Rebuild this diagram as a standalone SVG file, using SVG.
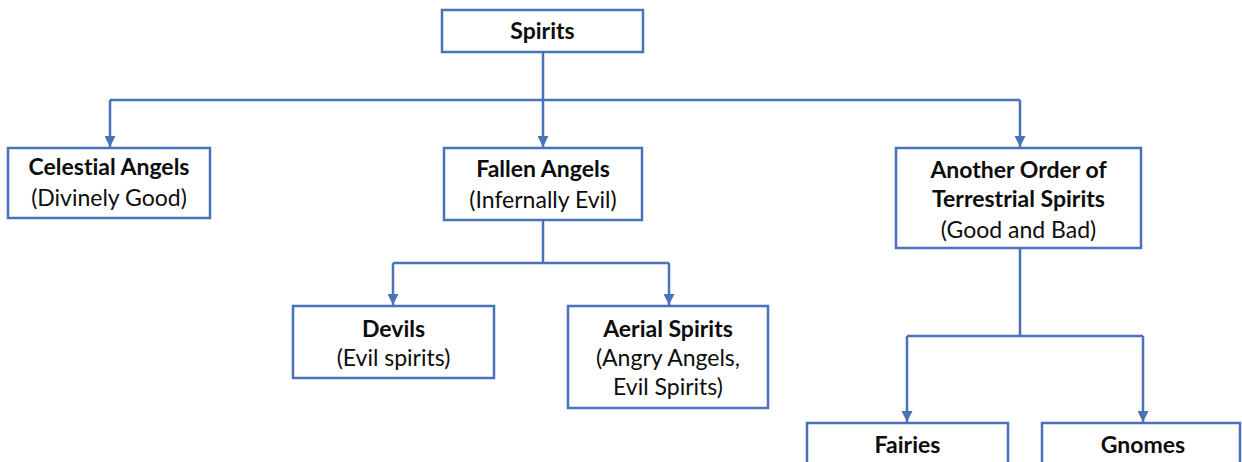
<svg xmlns="http://www.w3.org/2000/svg" width="1242" height="462" viewBox="0 0 1242 462">
  <style>
    .box { fill: #ffffff; stroke: #4a72b8; stroke-width: 2.5; }
    .wire { fill: none; stroke: #4a72b8; stroke-width: 2.5; }
    text { font-family: Lato, "Open Sans", "Liberation Sans", sans-serif; font-size: 23px; fill: #0d0d0d; text-anchor: middle; font-variant-ligatures: none; }
    .b { font-weight: bold; }
  </style>
  <defs>
    <marker id="tip" viewBox="0 0 10 10" refX="10" refY="5" markerWidth="4.4" markerHeight="4.4" markerUnits="strokeWidth" orient="auto">
      <path d="M0,0 L10,5 L0,10 Z" fill="#4a72b8"/>
    </marker>
  </defs>
  <rect width="1242" height="462" fill="#ffffff"/>

  <g id="connectors">
    <path class="wire" d="M543,52 V100"/>
    <path class="wire" d="M110,100 H1020"/>
    <path class="wire" d="M110,100 V147" marker-end="url(#tip)"/>
    <path class="wire" d="M543,100 V147" marker-end="url(#tip)"/>
    <path class="wire" d="M1020,100 V147" marker-end="url(#tip)"/>
    <path class="wire" d="M543,220 V263"/>
    <path class="wire" d="M393,263 H669"/>
    <path class="wire" d="M393,263 V305" marker-end="url(#tip)"/>
    <path class="wire" d="M669,263 V305" marker-end="url(#tip)"/>
    <path class="wire" d="M1020,248 V336"/>
    <path class="wire" d="M907,336 H1143"/>
    <path class="wire" d="M907,336 V422" marker-end="url(#tip)"/>
    <path class="wire" d="M1143,336 V422" marker-end="url(#tip)"/>
  </g>

  <g id="spirits">
    <rect class="box" x="442" y="10" width="201" height="42"/>
    <text class="b" x="542.5" y="39">Spirits</text>
  </g>
  <g id="celestial-angels">
    <rect class="box" x="8" y="148" width="202" height="70"/>
    <text class="b" x="109" y="175">Celestial Angels</text>
    <text x="109" y="206">(Divinely Good)</text>
  </g>
  <g id="fallen-angels">
    <rect class="box" x="444" y="148" width="198" height="72"/>
    <text class="b" x="543" y="177">Fallen Angels</text>
    <text x="543" y="208">(Infernally Evil)</text>
  </g>
  <g id="terrestrial-spirits">
    <rect class="box" x="896" y="148" width="245" height="100"/>
    <text class="b" x="1018.5" y="178">Another Order of</text>
    <text class="b" x="1018.5" y="207">Terrestrial Spirits</text>
    <text x="1018.5" y="238">(Good and Bad)</text>
  </g>
  <g id="devils">
    <rect class="box" x="293" y="306" width="201" height="72"/>
    <text class="b" x="393.5" y="337">Devils</text>
    <text x="393.5" y="366">(Evil spirits)</text>
  </g>
  <g id="aerial-spirits">
    <rect class="box" x="568" y="306" width="200" height="102"/>
    <text class="b" x="668" y="337">Aerial Spirits</text>
    <text x="668" y="366">(Angry Angels,</text>
    <text x="668" y="395">Evil Spirits)</text>
  </g>
  <g id="fairies">
    <rect class="box" x="807" y="423" width="201" height="60"/>
    <text class="b" x="907.5" y="453">Fairies</text>
  </g>
  <g id="gnomes">
    <rect class="box" x="1042" y="423" width="198" height="60"/>
    <text class="b" x="1143" y="453">Gnomes</text>
  </g>
</svg>
